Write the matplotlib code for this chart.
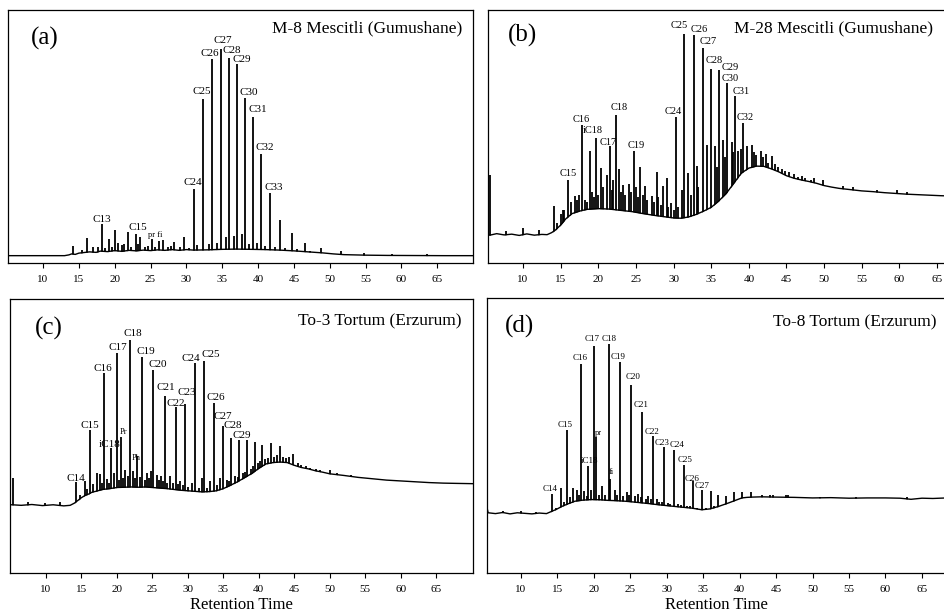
import matplotlib
matplotlib.use("Agg")
import matplotlib.pyplot as plt

plt.rcParams['font.family'] = ['Liberation Serif', 'DejaVu Serif']

# ---------------- panel (a) M-8 ----------------
a_base_t = [5.1, 13.0, 13.6, 14.0, 14.5, 15.0, 15.6, 16.5, 17.4, 18.0, 19.0, 20.0, 21.0, 22.0, 23.0,
            24.0, 25.0, 26.0, 27.0, 28.0, 29.0, 30.0, 31.0, 33.0, 35.0, 37.0, 39.0, 41.0, 43.0, 45.0,
            47.0, 49.0, 50.5, 52.0, 55.0, 58.0, 62.0, 66.0, 70.0]
a_base_y = [2.9, 2.9, 3.2, 3.6, 3.4, 3.9, 4.1, 4.4, 4.2, 4.7, 4.5, 4.9, 4.6, 5.0, 4.8,
            5.1, 4.9, 5.2, 5.0, 5.3, 5.0, 5.3, 5.1, 5.2, 5.4, 5.5, 5.4, 5.3, 5.1, 4.8,
            4.4, 4.0, 3.6, 3.3, 3.1, 3.0, 2.95, 2.9, 2.9]
a_peak_t = [14.2, 15.4, 16.2, 17.0, 17.6, 18.25, 18.7, 19.2, 19.6, 20.1, 20.5, 21.0, 21.3, 21.9, 22.3,
            22.96, 23.3, 23.6, 24.2, 24.6, 25.24, 25.6, 26.22, 26.8, 27.4, 27.8, 28.3, 29.1, 29.7, 30.3,
            31.07, 31.5, 32.38, 33.1, 33.64, 34.3, 34.8, 35.5, 35.97, 36.6, 37.13, 37.8, 38.21, 38.8,
            39.32, 39.8, 40.44, 41.0, 41.66, 42.3, 43.1, 43.7, 44.73, 45.4, 46.55, 47.3, 48.79, 51.54,
            54.85, 58.72, 63.52]
a_peak_y = [6.6, 5.3, 10.0, 6.2, 6.5, 15.4, 6.0, 9.5, 6.5, 13.0, 8.0, 7.0, 7.5, 12.4, 6.5,
            11.5, 7.5, 10.1, 6.5, 6.8, 9.5, 6.5, 8.6, 9.0, 6.5, 6.6, 8.4, 6.5, 10.4, 6.0,
            29.3, 7.0, 64.9, 7.5, 80.5, 8.0, 84.6, 10.2, 81.2, 10.5, 78.6, 11.5, 65.4, 7.5,
            57.9, 8.0, 43.2, 6.8, 27.6, 6.5, 16.8, 5.8, 11.8, 5.5, 7.9, 4.8, 6.0, 4.9,
            3.9, 3.5, 3.4]
a_labels = ["C13", "C15", "pr fi", "C24", "C25", "C26", "C27", "C28", "C29", "C30", "C31", "C32", "C33"]
a_label_t = [18.25, 22.96, 25.24, 31.07, 32.38, 33.64, 34.8, 35.97, 37.13, 38.21, 39.32, 40.44, 41.66]

# ---------------- panel (b) M-28 ----------------
b_base_t = [5.35, 5.6, 6.5, 7.5, 8.5, 9.5, 10.5, 11.5, 12.5, 13.2, 13.8, 14.3, 15.0, 15.7, 16.5,
            17.5, 18.5, 20.0, 21.5, 23.0, 24.5, 26.0, 27.5, 29.0, 30.0, 31.0, 32.0, 33.0, 34.0,
            35.0, 36.0, 37.0, 38.0, 39.0, 40.0, 41.0, 42.0, 43.0, 44.0, 45.0, 46.0, 47.0, 48.0,
            49.0, 50.0, 51.0, 52.0, 53.5, 55.0, 56.5, 58.0, 59.5, 61.0, 62.5, 64.0, 65.5, 66.6]
b_base_y = [11.2, 11.0, 11.6, 11.1, 11.4, 10.9, 11.5, 11.0, 11.3, 11.2, 12.0, 13.0, 15.0, 17.5, 19.5,
            20.5, 21.2, 21.5, 21.3, 20.8, 20.3, 19.5, 18.8, 18.2, 17.8, 17.7, 18.2, 19.2, 20.5,
            22.0, 24.5, 27.5, 31.5, 35.5, 37.5, 38.3, 38.2, 37.2, 36.0, 34.5, 33.5, 32.8, 32.2,
            31.5, 30.6, 30.0, 29.5, 29.0, 28.5, 28.2, 27.8, 27.5, 27.2, 27.0, 26.8, 26.6, 26.5]
b_peak_t = [5.57, 7.8, 10.0, 12.1, 14.08, 14.57, 15.1, 15.3, 15.5, 15.94, 16.4, 16.87, 17.2, 17.5,
            17.89, 18.2, 18.5, 18.87, 19.1, 19.4, 19.67, 20.0, 20.33, 20.6, 21.1, 21.53, 21.8, 22.0,
            22.33, 22.7, 23.0, 23.3, 23.6, 24.1, 24.4, 24.72, 25.0, 25.3, 25.6, 25.9, 26.2, 26.5,
            27.1, 27.4, 27.74, 28.0, 28.3, 28.6, 29.07, 29.3, 29.7, 30.0, 30.27, 30.6, 31.06, 31.42,
            31.95, 32.3, 32.66, 33.06, 33.3, 33.86, 34.4, 34.97, 35.5, 35.8, 36.08, 36.6, 36.9, 37.14,
            37.7, 37.9, 38.16, 38.6, 38.9, 39.18, 39.7, 40.4, 40.7, 41.0, 41.6, 41.9, 42.3, 42.6,
            43.04, 43.5, 43.9, 44.4, 44.8, 45.3, 46.0, 46.5, 47.0, 47.5, 48.3, 48.7, 49.8, 52.5,
            53.8, 57.0, 59.7, 61.0]
b_peak_y = [34.9, 12.5, 13.8, 13.2, 22.6, 15.8, 19.5, 21.1, 21.0, 32.9, 24.0, 26.6, 25.0, 27.0,
            54.6, 25.0, 24.0, 44.3, 28.0, 26.0, 49.5, 27.0, 37.5, 30.0, 34.9, 46.1, 29.0, 33.0,
            58.6, 37.1, 28.0, 30.9, 27.0, 31.2, 28.0, 44.1, 30.0, 26.0, 37.9, 27.0, 30.3, 25.0,
            26.3, 24.0, 35.8, 26.0, 23.0, 30.3, 33.6, 22.0, 23.7, 21.0, 57.6, 22.0, 28.9, 90.5,
            35.5, 27.0, 90.1, 38.2, 30.0, 85.1, 46.7, 76.6, 46.1, 38.0, 76.1, 48.7, 42.0, 71.1,
            48.0, 44.0, 66.1, 44.1, 45.0, 55.3, 46.1, 46.6, 44.0, 42.8, 44.1, 42.0, 43.0, 39.5,
            42.1, 39.0, 38.0, 37.0, 36.5, 36.0, 35.0, 34.0, 34.5, 33.5, 33.0, 33.5, 32.9, 30.5,
            30.0, 29.0, 28.9, 28.0]
b_labels = ["C15", "C16", "iC18", "C17", "C18", "C19", "C24", "C25", "C26", "C27", "C28", "C29",
            "C30", "C31", "C32"]
b_label_t = [15.94, 17.89, 19.67, 21.53, 22.33, 24.72, 30.27, 31.42, 32.66, 33.86, 34.97, 36.08,
             37.14, 38.16, 39.18]

# ---------------- panel (c) To-3 ----------------
c_base_t = [4.9, 5.2, 6.5, 8.0, 9.5, 11.0, 12.5, 13.4, 14.0, 14.5, 15.0, 15.5, 16.0, 16.5, 17.0,
            18.0, 19.0, 20.0, 21.0, 22.0, 23.0, 24.0, 25.0, 26.0, 27.0, 28.0, 29.0, 30.0, 31.0,
            32.0, 33.0, 34.0, 35.0, 36.0, 37.0, 38.0, 39.0, 40.0, 41.0, 42.0, 43.0, 44.0, 45.0,
            46.0, 47.0, 48.0, 49.0, 50.0, 52.0, 54.0, 56.0, 58.0, 60.0, 62.0, 64.0, 66.0, 68.0, 70.2]
c_base_y = [24.9, 24.9, 24.7, 25.0, 24.6, 24.9, 24.5, 24.7, 25.5, 26.5, 27.5, 28.3, 28.8, 29.5, 29.8,
            30.5, 30.8, 31.2, 31.3, 31.4, 31.3, 31.4, 31.2, 31.0, 30.8, 30.5, 30.2, 30.0, 29.8,
            29.6, 29.7, 30.0, 30.8, 32.0, 33.3, 34.8, 36.3, 38.2, 39.8, 40.3, 40.5, 40.3, 39.3,
            38.5, 38.0, 37.3, 36.8, 36.2, 35.6, 34.9, 34.4, 33.9, 33.6, 33.3, 33.0, 32.8, 32.7, 32.6]
c_peak_t = [5.39, 7.5, 9.8, 12.0, 14.23, 14.8, 15.5, 15.8, 16.21, 16.6, 17.15, 17.6, 17.9, 18.18,
            18.56, 18.9, 19.17, 19.6, 19.97, 20.25, 20.53, 20.8, 21.14, 21.5, 21.85, 22.3, 22.6,
            22.88, 23.2, 23.59, 23.9, 24.2, 24.5, 24.76, 25.14, 25.6, 25.9, 26.2, 26.5, 26.78, 27.1,
            27.5, 27.9, 28.29, 28.6, 28.9, 29.3, 29.65, 30.0, 30.55, 31.02, 31.5, 31.96, 32.33, 32.7,
            33.13, 33.7, 34.1, 34.54, 34.92, 35.48, 35.8, 36.09, 36.66, 37.0, 37.27, 37.8, 38.1,
            38.4, 38.9, 39.2, 39.48, 39.9, 40.2, 40.51, 40.9, 41.3, 41.69, 42.1, 42.5, 43.0, 43.4,
            43.8, 44.3, 44.88, 45.5, 46.0, 46.6, 47.2, 48.0, 48.6, 50.06, 51.0, 53.0]
c_peak_y = [34.7, 25.8, 25.6, 26.0, 33.1, 28.5, 33.5, 30.5, 52.1, 32.5, 36.5, 36.1, 33.0, 73.0,
            34.3, 33.0, 45.6, 36.5, 80.3, 34.0, 49.5, 34.5, 37.7, 35.5, 85.2, 37.1, 34.5,
            42.6, 35.0, 78.7, 34.0, 36.5, 34.5, 37.1, 74.2, 35.9, 34.0, 35.3, 33.5, 64.7, 33.0,
            35.3, 33.0, 60.5, 32.5, 33.5, 32.0, 61.8, 31.5, 32.8, 76.6, 31.0, 34.7, 77.3, 31.0,
            33.5, 62.0, 32.0, 34.7, 53.8, 34.1, 33.5, 49.1, 35.3, 35.0, 48.7, 36.5, 37.0,
            48.7, 38.0, 39.0, 47.8, 40.0, 41.0, 46.8, 41.5, 42.0, 47.4, 42.5, 43.0, 46.5, 42.5,
            42.0, 42.5, 43.4, 40.0, 39.5, 39.0, 38.5, 38.0, 37.5, 37.5, 36.5, 35.8]
c_labels = ["C14", "C15", "C16", "iC18", "C17", "Pr", "C18", "Ph", "C19", "C20", "C21", "C22",
            "C23", "C24", "C25", "C26", "C27", "C28", "C29"]
c_label_t = [14.23, 16.21, 18.18, 19.17, 19.97, 20.53, 21.85, 22.88, 23.59, 25.14, 26.78, 28.29,
             29.65, 31.02, 32.33, 33.7, 34.92, 36.09, 37.27]

# ---------------- panel (d) To-8 ----------------
d_base_t = [5.3, 5.5, 6.5, 7.5, 8.5, 9.5, 10.5, 11.5, 12.5, 13.5, 14.2, 14.9, 15.6, 16.5, 17.4,
            18.5, 19.7, 21.0, 22.0, 23.0, 24.3, 25.5, 26.6, 27.7, 28.9, 30.0, 31.1, 32.2, 33.4,
            34.8, 35.9, 37.1, 38.5, 39.4, 40.3, 41.0, 41.7, 43.0, 45.0, 47.5, 50.0, 52.5, 55.0,
            57.5, 60.0, 62.0, 63.5, 65.0, 66.5, 68.4]
d_base_y = [24.2, 21.9, 21.6, 22.0, 21.5, 21.9, 21.7, 21.5, 21.8, 21.6, 22.4, 23.2, 24.2, 25.2, 26.1,
            26.5, 26.7, 26.6, 26.4, 26.3, 26.1, 25.8, 25.5, 25.2, 24.8, 24.5, 24.2, 23.9, 23.6,
            23.0, 23.3, 24.2, 25.5, 26.4, 27.3, 27.5, 27.6, 27.7, 27.6, 27.5, 27.3, 27.4, 27.2,
            27.3, 27.3, 27.2, 26.8, 27.2, 27.1, 27.3]
d_peak_t = [7.5, 10.0, 12.0, 14.21, 14.8, 15.49, 15.9, 16.32, 16.7, 17.19, 17.64, 18.0, 18.24, 18.7,
            19.0, 19.24, 19.6, 20.07, 20.34, 20.7, 21.08, 21.5, 22.08, 22.27, 22.9, 23.2, 23.59,
            24.0, 24.5, 24.8, 25.1, 25.6, 26.1, 26.4, 26.66, 27.1, 27.48, 27.8, 28.17, 28.6, 29.0,
            29.3, 29.63, 30.1, 30.5, 31.0, 31.5, 31.9, 32.33, 32.8, 33.2, 33.62, 34.2, 34.85, 35.4,
            36.0, 36.5, 37.05, 38.19, 39.24, 40.34, 41.53, 43.0, 44.2, 44.6, 46.3, 46.6, 51.0,
            56.0, 63.0]
d_peak_y = [22.4, 22.6, 22.3, 28.8, 23.8, 30.9, 26.0, 52.1, 27.5, 30.9, 30.3, 28.5, 76.1, 29.7,
            28.0, 38.8, 30.3, 82.7, 49.3, 28.5, 31.5, 28.5, 83.4, 34.2, 30.3, 28.5, 76.6,
            28.0, 29.5, 28.5, 68.4, 28.0, 28.8, 27.5, 58.5, 27.0, 27.9, 26.8, 49.9, 26.9, 26.0,
            25.8, 45.7, 25.5, 25.2, 44.6, 25.0, 24.8, 39.2, 24.5, 24.2, 33.3, 23.8, 30.3, 23.8,
            29.9, 24.2, 28.5, 28.1, 29.3, 29.5, 29.3, 28.5, 28.4, 28.2, 28.5, 28.3, 27.8,
            27.6, 27.5]
d_labels = ["C14", "C15", "C16", "iC18", "C17", "pr", "C18", "fi", "C19", "C20", "C21", "C22",
            "C23", "C24", "C25", "C26", "C27"]
d_label_t = [14.21, 16.32, 18.24, 19.24, 20.07, 20.34, 22.08, 22.27, 23.59, 25.1, 26.66, 28.17,
             29.63, 31.0, 32.33, 33.62, 34.85]

xticks = [10, 15, 20, 25, 30, 35, 40, 45, 50, 55, 60, 65]
small_names = ["pr fi", "Pr", "Ph", "pr", "fi"]

# label offsets in pixels (dx, dy) from the peak top
a_off = [(0, 5), (2, 6), (3, 4), (-1, 6), (-2, 7), (-3, 6), (2, 8), (3, 7), (4, 5), (4, 5), (5, 7), (4, 6), (4, 6)]
b_off = [(1, 6), (-1, 5), (-3, 7), (-2, 4), (3, 7), (2, 6), (-2, 6), (-5, 9), (6, 6), (6, 6), (3, 9),
         (11, 3), (3, 5), (6, 4), (3, 6)]
c_off = [(0, 4), (0, 5), (-1, 4), (-1, 4), (1, 5), (3, 5), (3, 6), (-1, -2), (3, 6), (4, 5), (1, 8),
         (0, 4), (1, 11), (-4, 5), (6, 7), (2, 6), (0, 9), (2, 13), (2, 4)]
d_off = [(-2, 5), (-2, 5), (-1, 6), (1, 5), (-2, 7), (2, 4), (0, 5), (1, 7), (-2, 5), (2, 8), (-1, 7),
         (-1, 4), (-2, 4), (3, 5), (1, 5), (-1, 2), (0, 4)]


def draw_panel(ax, base_t, base_y, peak_t, peak_y, labels, label_t, offsets, lab_fs, xlim,
               title, tag, title_xy, tag_xy, title_ha):
    # spikes first, then mask everything under the baseline, then the baseline trace
    ax.vlines(peak_t, 0, peak_y, color='black', lw=1.3, zorder=1)
    ax.fill_between(base_t, 0, base_y, color='white', lw=0, zorder=2)
    ax.plot(base_t, base_y, color='black', lw=1.0, zorder=3)
    tops = dict(zip(peak_t, peak_y))
    for name, t, (dx, dy) in zip(labels, label_t, offsets):
        fs = 6 if name in small_names else lab_fs
        ax.annotate(name, (t, tops[t]), xytext=(dx, dy), textcoords='offset pixels',
                    ha='center', va='center', fontsize=fs, zorder=4)
    ax.set_xlim(xlim)
    ax.set_ylim(0, 100)
    ax.set_yticks([])
    ax.set_xticks(xticks)
    ax.tick_params(axis='x', direction='out', length=3.5, width=0.8, labelsize=8, pad=5.5)
    for s in ax.spines.values():
        s.set_linewidth(0.9)
    ax.text(title_xy[0], title_xy[1], title, transform=ax.transAxes, ha=title_ha, va='center',
            fontsize=12.5)
    ax.text(tag_xy[0], tag_xy[1], tag, transform=ax.transAxes, ha='left', va='center', fontsize=18)


fig = plt.figure(figsize=(9.45, 6.14), dpi=100)
W, H = 945.0, 614.0


def px_axes(l, t, r, b):
    return fig.add_axes([l / W, 1 - b / H, (r - l) / W, (b - t) / H])


ax_a = px_axes(8, 10, 473, 263)
ax_b = px_axes(488, 10, 948, 263)
ax_c = px_axes(10, 299, 473, 573)
ax_d = px_axes(487, 298, 946, 573)

draw_panel(ax_a, a_base_t, a_base_y, a_peak_t, a_peak_y, a_labels, a_label_t, a_off, 8,
           (5.11, 70.0), "M-8 Mescitli (Gumushane)", "(a)", (0.976, 0.929), (0.05, 0.889), 'right')
draw_panel(ax_b, b_base_t, b_base_y, b_peak_t, b_peak_y, b_labels, b_label_t, b_off, 7.5,
           (5.35, 66.46), "M-28 Mescitli (Gumushane)", "(b)", (0.535, 0.929), (0.043, 0.9), 'left')
draw_panel(ax_c, c_base_t, c_base_y, c_peak_t, c_peak_y, c_labels, c_label_t, c_off, 8,
           (4.92, 70.2), "To-3 Tortum (Erzurum)", "(c)", (0.976, 0.92), (0.054, 0.891), 'right')
draw_panel(ax_d, d_base_t, d_base_y, d_peak_t, d_peak_y, d_labels, d_label_t, d_off, 6.5,
           (5.34, 68.3), "To-8 Tortum (Erzurum)", "(d)", (0.98, 0.913), (0.039, 0.895), 'right')

ax_c.set_xlabel("Retention Time", fontsize=12, labelpad=2)
ax_d.set_xlabel("Retention Time", fontsize=12, labelpad=2)

plt.savefig("out.png", dpi=100)
